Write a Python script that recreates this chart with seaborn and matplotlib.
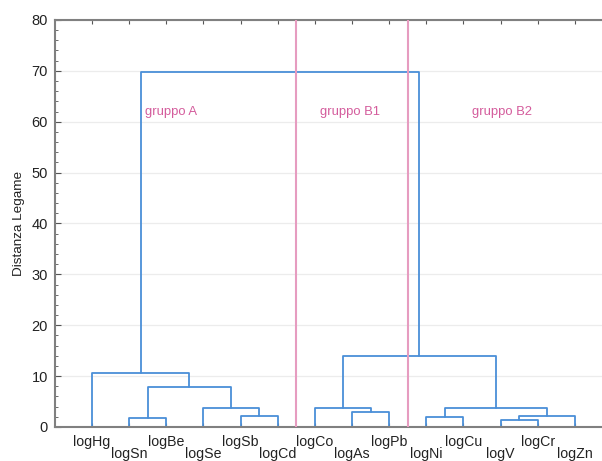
import pandas as pd
import numpy as np
import matplotlib
matplotlib.use("Agg")
import matplotlib.pyplot as plt
import seaborn as sns

# Leaves (left to right) and merges: (left child, right child, height)
leaves = ['logHg', 'logSn', 'logBe', 'logSe', 'logSb', 'logCd', 'logCo',
          'logAs', 'logPb', 'logNi', 'logCu', 'logV', 'logCr', 'logZn']
merge_left = [1, 4, 3, 14, 0, 7, 6, 9, 11, 22, 21, 20, 18]
merge_right = [2, 5, 15, 16, 17, 8, 19, 10, 12, 13, 23, 24, 25]
merge_height = [1.8, 2.1, 3.7, 7.9, 10.7, 3.0, 3.7, 2.0, 1.3, 2.1, 3.8, 14.0, 69.8]

group_names = ['gruppo A', 'gruppo B1', 'gruppo B2']
group_cuts = [6.5, 9.5]

# Build dendrogram link coordinates
pos = {i: i + 1.0 for i in range(len(leaves))}
hgt = {i: 0.0 for i in range(len(leaves))}
rows = []
for k, (a, b, h) in enumerate(zip(merge_left, merge_right, merge_height)):
    node = len(leaves) + k
    xs = [pos[a], pos[a], pos[b], pos[b]]
    ys = [hgt[a], h, h, hgt[b]]
    for j, (x, y) in enumerate(zip(xs, ys)):
        rows.append({'link': k, 'order': j, 'x': x, 'y': y})
    pos[node] = (pos[a] + pos[b]) / 2
    hgt[node] = h
links = pd.DataFrame(rows)

sns.set_style("ticks")
plt.rcParams['font.family'] = ['Liberation Sans', 'DejaVu Sans']

fig = plt.figure(figsize=(6.02, 4.61), dpi=100)
ax = fig.add_axes([0.0911, 0.0738, 1 - 0.0911, 0.8829])

ax.grid(axis='y', color='#ececec', linewidth=0.9)
ax.set_axisbelow(True)

sns.lineplot(data=links, x='x', y='y', units='link', estimator=None, sort=False,
             color='#4a8fd8', linewidth=1.3, ax=ax, legend=False)

for c in group_cuts:
    ax.axvline(c, color='#e69cc0', linewidth=1.5, zorder=3)

ax.text(2.43, 62, group_names[0], color='#d45c9c', fontsize=9.4, va='center', ha='left')
ax.text(7.94, 62, group_names[1], color='#d45c9c', fontsize=9.4, va='center', ha='center')
ax.text(12.04, 62, group_names[2], color='#d45c9c', fontsize=9.4, va='center', ha='center')

ax.set_xlim(0, 14.73)
ax.set_ylim(0, 80)
ax.set_yticks(np.arange(0, 81, 10))
ax.set_yticks(np.arange(0, 81, 2), minor=True)
ax.set_xticks([i + 1 for i in range(len(leaves))])
ax.set_xticklabels(leaves)
ax.tick_params(axis='x', which='both', direction='in', top=True, bottom=True,
               length=3, color='#555555', labelsize=10.2, labelcolor='#222222', pad=6)
ax.tick_params(axis='y', which='major', direction='in', length=4, color='#555555',
               labelsize=10.5, labelcolor='#222222', pad=5)
ax.tick_params(axis='y', which='minor', direction='in', length=2.5, color='#555555')
for i, t in enumerate(ax.xaxis.get_major_ticks()):
    if i % 2 == 1:
        t.set_pad(14.5)

ax.set_xlabel('')
ax.set_ylabel('Distanza Legame', fontsize=9.7, color='#222222', labelpad=5)

for s in ['left', 'top', 'bottom']:
    ax.spines[s].set_color('#808080')
    ax.spines[s].set_linewidth(1.5)
ax.spines['right'].set_visible(False)

fig.savefig('out.png', dpi=100)
